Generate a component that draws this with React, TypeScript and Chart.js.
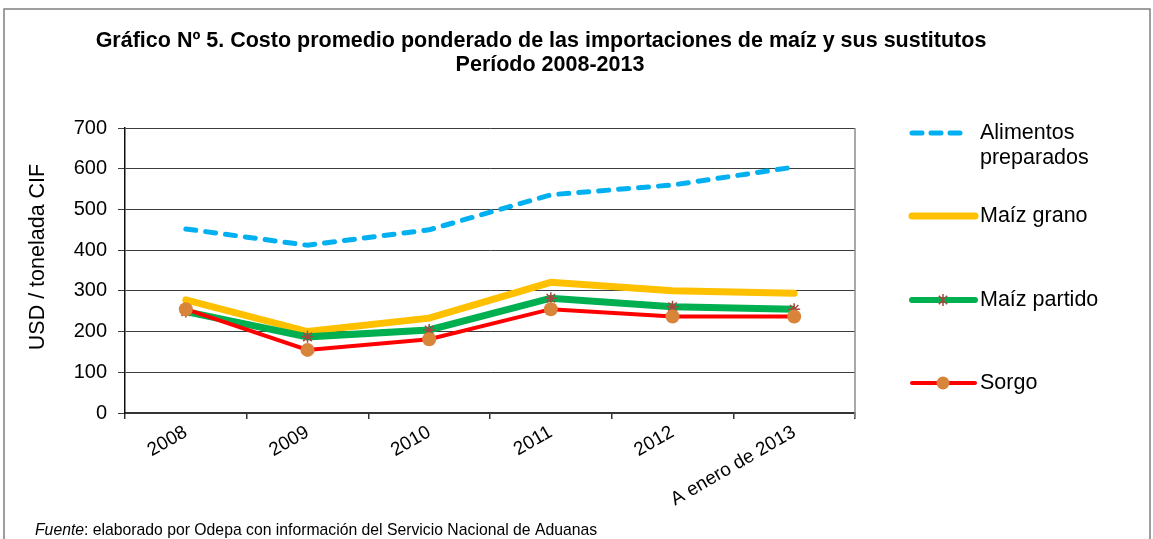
import React, { useEffect, useRef } from "react";
import { Chart, registerables } from "chart.js";

Chart.register(...registerables);

const categories = ["2008", "2009", "2010", "2011", "2012", "A enero de 2013"];
const alimentosPreparados = [452, 412, 450, 536, 560, 604];
const maizGrano = [278, 200, 233, 321, 300, 294];
const maizPartido = [249, 187, 204, 282, 261, 255];
const sorgo = [255, 155, 181, 255, 237, 237];
const yTicks = [0, 100, 200, 300, 400, 500, 600, 700];

const titleLines = [
  "Gráfico Nº 5. Costo promedio ponderado de las importaciones de maíz y sus sustitutos",
  "Período 2008-2013",
];
const yTitle = "USD / tonelada CIF";
const legendNames = [["Alimentos", "preparados"], ["Maíz grano"], ["Maíz partido"], ["Sorgo"]];

const FONT = "'Liberation Sans', Arial, sans-serif";

const extrasPlugin = {
  id: "extras",
  afterDraw(chart: any) {
    const ctx = chart.ctx as CanvasRenderingContext2D;
    const area = chart.chartArea;
    ctx.save();
    // outer border
    ctx.strokeStyle = "#7f7f7f";
    ctx.lineWidth = 1.5;
    ctx.beginPath();
    ctx.moveTo(4, 545);
    ctx.lineTo(4, 9);
    ctx.lineTo(1150, 9);
    ctx.lineTo(1150, 545);
    ctx.stroke();
    // plot right border
    ctx.strokeStyle = "#8c8c8c";
    ctx.lineWidth = 1.5;
    ctx.beginPath();
    ctx.moveTo(area.right, area.top);
    ctx.lineTo(area.right, area.bottom + 5);
    ctx.stroke();

    // title
    ctx.fillStyle = "#000";
    ctx.font = `bold 21.5px ${FONT}`;
    ctx.textAlign = "center";
    ctx.textBaseline = "middle";
    ctx.fillText(titleLines[0], 541, 41);
    ctx.fillText(titleLines[1], 550, 65);

    // y title
    ctx.save();
    ctx.translate(38, 257);
    ctx.rotate(-Math.PI / 2);
    ctx.font = `21.5px ${FONT}`;
    ctx.fillText(yTitle, 0, 0);
    ctx.restore();

    // footer
    ctx.textAlign = "left";
    ctx.font = `italic 15.75px ${FONT}`;
    const f1 = "Fuente";
    ctx.fillText(f1, 35, 531);
    const w1 = ctx.measureText(f1).width;
    ctx.font = `15.75px ${FONT}`;
    ctx.fillText(": elaborado por Odepa con información del Servicio Nacional de Aduanas", 35 + w1, 531);

    // legend
    const lx0 = 910;
    const lx1 = 975;
    const tx = 980;
    ctx.font = `21.5px ${FONT}`;
    ctx.lineCap = "round";
    // Alimentos
    ctx.strokeStyle = "#00B0F0";
    ctx.lineWidth = 5;
    ctx.setLineDash([10, 9]);
    ctx.beginPath();
    ctx.moveTo(lx0 + 2, 133);
    ctx.lineTo(lx1 - 8, 133);
    ctx.stroke();
    ctx.setLineDash([]);
    ctx.fillStyle = "#000";
    ctx.fillText(legendNames[0][0], tx, 133);
    ctx.fillText(legendNames[0][1], tx, 158);
    // Maiz grano
    ctx.strokeStyle = "#FFC000";
    ctx.lineWidth = 7;
    ctx.beginPath();
    ctx.moveTo(lx0 + 2, 216);
    ctx.lineTo(lx1, 216);
    ctx.stroke();
    ctx.fillText(legendNames[1][0], tx, 216);
    // Maiz partido
    ctx.strokeStyle = "#00B050";
    ctx.lineWidth = 6;
    ctx.beginPath();
    ctx.moveTo(lx0 + 2, 300);
    ctx.lineTo(lx1, 300);
    ctx.stroke();
    ctx.lineCap = "butt";
    ctx.strokeStyle = "#A5463F";
    ctx.lineWidth = 1.5;
    const mx = 943, my = 300, r = 6;
    ctx.beginPath();
    ctx.moveTo(mx - r * 0.7, my - r * 0.7);
    ctx.lineTo(mx + r * 0.7, my + r * 0.7);
    ctx.moveTo(mx + r * 0.7, my - r * 0.7);
    ctx.lineTo(mx - r * 0.7, my + r * 0.7);
    ctx.moveTo(mx, my - r);
    ctx.lineTo(mx, my + r);
    ctx.stroke();
    ctx.fillText(legendNames[2][0], tx, 300);
    // Sorgo
    ctx.lineCap = "round";
    ctx.strokeStyle = "#FF0000";
    ctx.lineWidth = 4;
    ctx.beginPath();
    ctx.moveTo(lx0 + 2, 383);
    ctx.lineTo(lx1, 383);
    ctx.stroke();
    ctx.fillStyle = "#D9843B";
    ctx.beginPath();
    ctx.arc(943, 383, 6.5, 0, Math.PI * 2);
    ctx.fill();
    ctx.fillStyle = "#000";
    ctx.fillText(legendNames[3][0], tx, 383);
    ctx.restore();
  },
};

export default function App() {
  const ref = useRef<HTMLCanvasElement | null>(null);
  useEffect(() => {
    document.body.style.margin = "0";
    const canvas = ref.current;
    if (!canvas) return;
    const chart = new Chart(canvas, {
      type: "line",
      data: {
        labels: categories,
        datasets: [
          {
            label: "Sorgo",
            data: sorgo,
            borderColor: "#FF0000",
            backgroundColor: "#D9843B",
            borderWidth: 4,
            pointRadius: 7,
            pointBorderWidth: 0,
            pointBackgroundColor: "#D9843B",
            pointBorderColor: "#D9843B",
            tension: 0,
            order: 0,
          },
          {
            label: "Maíz partido",
            data: maizPartido,
            borderColor: "#00B050",
            borderWidth: 7,
            pointStyle: "star",
            pointRadius: 6,
            pointBorderWidth: 1.5,
            pointBorderColor: "#A5463F",
            pointBackgroundColor: "#A5463F",
            tension: 0,
            order: 1,
          },
          {
            label: "Maíz grano",
            data: maizGrano,
            borderColor: "#FFC000",
            borderWidth: 7,
            pointRadius: 0,
            borderCapStyle: "round",
            tension: 0,
            order: 2,
          },
          {
            label: "Alimentos preparados",
            data: alimentosPreparados,
            borderColor: "#00B0F0",
            borderWidth: 5,
            borderDash: [10, 10],
            borderCapStyle: "round",
            pointRadius: 0,
            tension: 0,
            order: 3,
          },
        ],
      },
      options: {
        animation: false,
        responsive: false,
        maintainAspectRatio: false,
        layout: { padding: { left: 10, right: 298, top: 128, bottom: 0 } },
        plugins: {
          legend: { display: false },
          tooltip: { enabled: false },
          title: { display: false },
        },
        scales: {
          x: {
            offset: true,
            afterFit: (s: any) => {
              s.height = 126;
            },
            grid: {
              offset: true,
              drawOnChartArea: false,
              drawTicks: true,
              tickLength: 6,
              color: "#333",
              lineWidth: 1.5,
            },
            border: { display: true, color: "#333", width: 1.5 },
            ticks: {
              color: "#000",
              font: { family: FONT, size: 19 },
              maxRotation: 30,
              minRotation: 30,
              padding: 2,
              autoSkip: false,
            },
          },
          y: {
            min: 0,
            max: 700,
            afterFit: (s: any) => {
              s.width = 115;
            },
            afterBuildTicks: (s: any) => {
              s.ticks = yTicks.map((v) => ({ value: v }));
            },
            grid: {
              color: "#3c3c3c",
              lineWidth: 1,
              drawTicks: true,
              tickLength: 7,
            },
            border: { display: true, color: "#111", width: 1.5 },
            ticks: {
              color: "#000",
              font: { family: FONT, size: 20 },
              padding: 11,
            },
          },
        },
      },
      plugins: [extrasPlugin],
    });
    return () => chart.destroy();
  }, []);
  return <canvas ref={ref} width={1153} height={539} style={{ display: "block", width: 1153, height: 539 }} />;
}
